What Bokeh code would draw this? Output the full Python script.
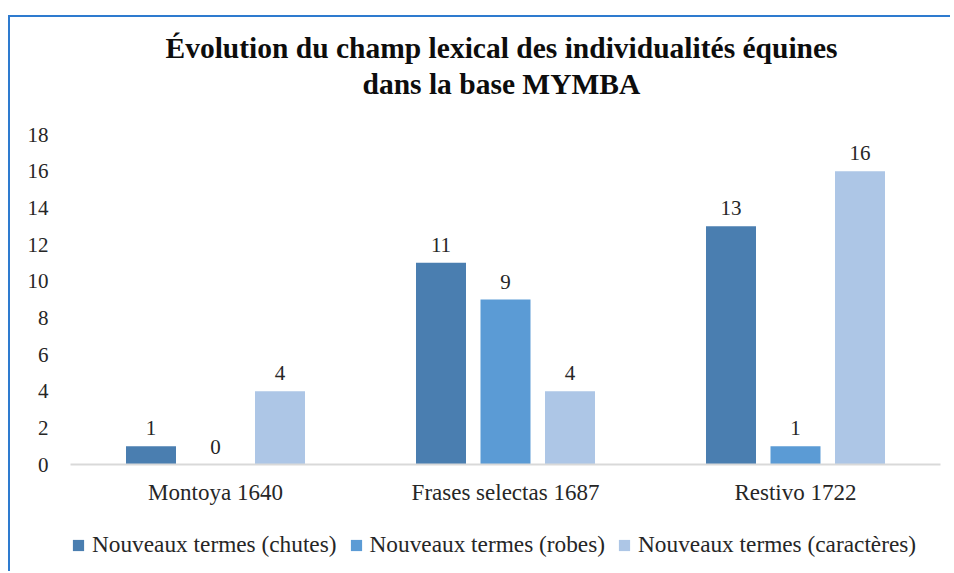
from bokeh.plotting import figure
from bokeh.layouts import column
from bokeh.models import (FactorRange, Range1d, ColumnDataSource, FixedTicker,
                          Legend, LegendItem, Title)
from bokeh.transform import dodge
from bokeh.core.properties import value
from bokeh.embed import file_html
from bokeh.resources import INLINE

categories = ["Montoya 1640", "Frases selectas 1687", "Restivo 1722"]
chutes = [1, 11, 13]
robes = [0, 9, 1]
caracteres = [4, 4, 16]
series_names = ["Nouveaux termes (chutes)", "Nouveaux termes (robes)",
                "Nouveaux termes (caractères)"]
y_ticks = [0, 2, 4, 6, 8, 10, 12, 14, 16, 18]
title_lines = ["Évolution du champ lexical des individualités équines",
               "dans la base MYMBA"]

colors = ["#4A7EB0", "#5B9BD5", "#ADC6E6"]
FONT = "Liberation Serif"
TXT = "#262626"

src = ColumnDataSource(dict(
    cat=categories,
    chutes=chutes, robes=robes, caracteres=caracteres,
    chutes_l=[str(v) for v in chutes],
    robes_l=[str(v) for v in robes],
    caracteres_l=[str(v) for v in caracteres],
))

# ---- main chart ----
p = figure(x_range=FactorRange(factors=categories), y_range=Range1d(0, 18),
           width=940, height=497, output_backend="svg", toolbar_location=None,
           min_border_left=60, min_border_right=10, min_border_top=117,
           min_border_bottom=50)

offsets = [-0.2224, 0.0, 0.2224]
keys = ["chutes", "robes", "caracteres"]
for k, off, c in zip(keys, offsets, colors):
    p.vbar(x=dodge("cat", off, range=p.x_range), top=k, width=0.1724,
           source=src, fill_color=c, line_color=None)
    p.text(x=dodge("cat", off, range=p.x_range), y=k, text=k + "_l", source=src,
           text_align="center", text_baseline="alphabetic", y_offset=-18,
           text_font=value(FONT), text_font_size="21px", text_color=TXT)

p.xgrid.visible = False
p.ygrid.visible = False
p.outline_line_color = None
p.background_fill_color = "white"
p.border_fill_color = "white"

p.yaxis.ticker = FixedTicker(ticks=y_ticks)
p.yaxis.axis_line_color = None
p.yaxis.major_tick_line_color = None
p.yaxis.minor_tick_line_color = None
p.yaxis.major_tick_out = 0
p.yaxis.major_tick_in = 0
p.yaxis.major_label_standoff = 22
p.yaxis.major_label_text_font = FONT
p.yaxis.major_label_text_font_size = "21px"
p.yaxis.major_label_text_color = TXT

p.xaxis.axis_line_color = "#D9D9D9"
p.xaxis.axis_line_width = 2
p.xaxis.major_tick_line_color = None
p.xaxis.minor_tick_line_color = None
p.xaxis.major_tick_out = 0
p.xaxis.major_tick_in = 0
p.xaxis.major_label_standoff = 15
p.xaxis.major_label_text_font = FONT
p.xaxis.major_label_text_font_size = "23px"
p.xaxis.major_label_text_color = TXT

p.add_layout(Title(text=title_lines[1], align="left", offset=292, text_font=FONT,
                   text_font_size="29.5px", text_font_style="bold",
                   text_color="#0D0D0D", standoff=70), "above")
p.add_layout(Title(text=title_lines[0], align="left", offset=95, text_font=FONT,
                   text_font_size="29.5px", text_font_style="bold",
                   text_color="#0D0D0D", standoff=-66), "above")

# ---- legend strip ----
p2 = figure(x_range=FactorRange(factors=categories), y_range=Range1d(1000, 1001),
            width=940, height=57, output_backend="svg", toolbar_location=None,
            x_axis_location=None, y_axis_location=None, min_border=0)
p2.grid.visible = False
p2.outline_line_color = None
p2.background_fill_color = "white"
p2.border_fill_color = "white"
leg_renderers = []
for k, off, c in zip(keys, offsets, colors):
    leg_renderers.append(p2.vbar(x=dodge("cat", off, range=p2.x_range), top=k,
                                 width=0.1724, source=src, fill_color=c,
                                 line_color=None))

legend = Legend(items=[LegendItem(label=n, renderers=[r])
                       for n, r in zip(series_names, leg_renderers)],
                orientation="horizontal", location=(1, 13),
                glyph_width=14, glyph_height=14, label_standoff=7, spacing=12,
                padding=0, margin=0, border_line_color=None, background_fill_alpha=0,
                label_text_font=FONT, label_text_font_size="23.3px",
                label_text_color=TXT)
p2.add_layout(legend)

layout = column(p, p2, spacing=0)
layout.margin = (15, 0, 0, 8)
layout.styles = {"border-left": "2px solid #2E7BCF", "border-top": "2px solid #2E7BCF"}

open("out.html", "w").write(file_html(layout, INLINE))
